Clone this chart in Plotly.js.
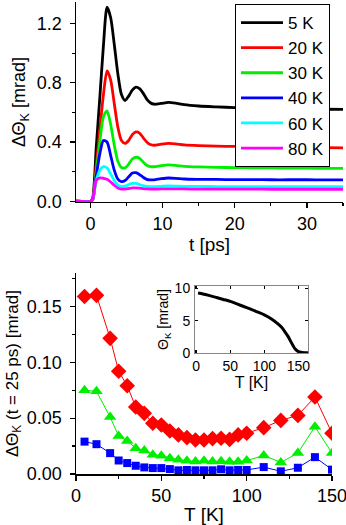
<!DOCTYPE html>
<html>
<head>
<meta charset="utf-8">
<script src="https://cdn.plot.ly/plotly-3.0.1.min.js"></script>
<style>
  html, body { margin: 0; padding: 0; background: #fff; }
  #plot { width: 346px; height: 525px; }
</style>
</head>
<body>
<div id="plot"></div>
<script>
// time-resolved Kerr rotation (top panel)
var tPs = [-2, 0, 0.3, 0.8, 1.3, 1.8, 2.3, 2.8, 3.3, 3.8, 4.3, 4.8, 5.3, 5.8, 6.3, 6.8, 7.3, 7.8, 8.3, 8.8, 9.8, 10.8, 11.8, 13, 15, 17.5, 20, 22.5, 25, 27.5, 30, 32.5, 35];
var k5  = [0, 0, 0.02, 0.36, 0.70, 1.05, 1.31, 1.24, 1.06, 0.86, 0.72, 0.68, 0.71, 0.75, 0.77, 0.76, 0.73, 0.69, 0.665, 0.655, 0.66, 0.668, 0.663, 0.652, 0.643, 0.637, 0.632, 0.628, 0.625, 0.623, 0.622, 0.621, 0.62];
var k20 = [0, 0, 0.01, 0.24, 0.48, 0.72, 0.88, 0.82, 0.66, 0.50, 0.41, 0.39, 0.41, 0.45, 0.468, 0.46, 0.43, 0.40, 0.383, 0.378, 0.385, 0.39, 0.387, 0.38, 0.375, 0.372, 0.37, 0.368, 0.366, 0.364, 0.363, 0.362, 0.36];
var k30 = [0, 0, 0.01, 0.20, 0.40, 0.57, 0.61, 0.52, 0.38, 0.27, 0.228, 0.225, 0.25, 0.285, 0.297, 0.29, 0.265, 0.243, 0.234, 0.233, 0.24, 0.245, 0.242, 0.236, 0.232, 0.229, 0.227, 0.226, 0.225, 0.224, 0.223, 0.222, 0.222];
var k40 = [0, 0, 0.01, 0.17, 0.32, 0.41, 0.40, 0.31, 0.21, 0.15, 0.133, 0.14, 0.165, 0.19, 0.193, 0.18, 0.162, 0.148, 0.144, 0.145, 0.152, 0.157, 0.155, 0.15, 0.148, 0.147, 0.146, 0.146, 0.145, 0.145, 0.145, 0.144, 0.144];
var k60 = [0, 0, 0.01, 0.14, 0.21, 0.233, 0.225, 0.185, 0.14, 0.11, 0.099, 0.102, 0.112, 0.12, 0.12, 0.113, 0.105, 0.10, 0.099, 0.099, 0.101, 0.103, 0.102, 0.10, 0.10, 0.099, 0.099, 0.099, 0.098, 0.098, 0.098, 0.098, 0.098];
var k80 = [0, 0, 0.01, 0.14, 0.158, 0.155, 0.148, 0.13, 0.108, 0.09, 0.082, 0.082, 0.086, 0.09, 0.09, 0.088, 0.085, 0.083, 0.082, 0.082, 0.083, 0.084, 0.083, 0.083, 0.082, 0.082, 0.082, 0.082, 0.081, 0.081, 0.081, 0.081, 0.081];
var tempNames = ["5 K", "20 K", "30 K", "40 K", "60 K", "80 K"];
var tempColors = ["#000000", "#ff0000", "#00ee00", "#0000ff", "#00ffff", "#ff00ff"];

// signal at t = 25 ps vs temperature (bottom panel)
var tempK = [5, 12, 20, 25, 30, 35, 40, 45, 50, 55, 60, 65, 70, 75, 80, 85, 90, 95, 100, 110, 120, 130, 140, 150];
var redDiamond = [0.159, 0.160, 0.1215, 0.092, 0.079, 0.060, 0.0543, 0.0454, 0.0439, 0.0385, 0.035, 0.0326, 0.0305, 0.0305, 0.0317, 0.032, 0.031, 0.035, 0.0365, 0.0415, 0.048, 0.0525, 0.069, 0.0365];
var greenTri = [0.075, 0.074, 0.051, 0.034, 0.0296, 0.0231, 0.021, 0.0172, 0.0163, 0.0142, 0.0127, 0.0118, 0.0112, 0.0118, 0.0112, 0.0115, 0.011, 0.011, 0.012, 0.0166, 0.0104, 0.0187, 0.0424, 0.0187];
var blueSquare = [0.029, 0.0267, 0.0187, 0.0121, 0.0098, 0.0074, 0.0059, 0.0053, 0.0053, 0.0044, 0.0033, 0.0036, 0.0033, 0.0033, 0.0033, 0.0042, 0.0033, 0.0036, 0.0036, 0.0062, 0.0024, 0.0056, 0.0151, 0.0039];

// static Kerr rotation (inset)
var insetT = [3, 10, 20, 30, 40, 50, 60, 70, 80, 90, 100, 110, 120, 125, 130, 135, 140, 145, 150, 155, 160, 164];
var insetTheta = [9.3, 9.15, 8.9, 8.6, 8.3, 8.0, 7.6, 7.2, 6.8, 6.35, 5.9, 5.3, 4.5, 4.0, 3.3, 2.5, 1.5, 0.6, 0.15, 0.02, 0, 0];

var font = "Liberation Sans, Arial, sans-serif";
var kSeries = [k5, k20, k30, k40, k60, k80];

var traces = kSeries.map(function (ys, i) {
  return {
    x: tPs, y: ys, type: "scatter", mode: "lines",
    name: tempNames[i],
    line: { color: tempColors[i], width: 2.8, shape: "spline", smoothing: 0.7 },
    xaxis: "x", yaxis: "y"
  };
});

traces.push({
  x: tempK, y: redDiamond, type: "scatter", mode: "lines+markers", showlegend: false,
  line: { color: "#ff0000", width: 1 },
  marker: { symbol: "diamond", size: 12, color: "#ff0000" },
  xaxis: "x3", yaxis: "y3"
});
traces.push({
  x: tempK, y: greenTri, type: "scatter", mode: "lines+markers", showlegend: false,
  line: { color: "#00ee00", width: 1 },
  marker: { symbol: "triangle-up", size: 11, color: "#00ee00" },
  xaxis: "x3", yaxis: "y3"
});
traces.push({
  x: tempK, y: blueSquare, type: "scatter", mode: "lines+markers", showlegend: false,
  line: { color: "#0000ff", width: 1 },
  marker: { symbol: "square", size: 8, color: "#0000ff" },
  xaxis: "x3", yaxis: "y3"
});
traces.push({
  x: insetT, y: insetTheta, type: "scatter", mode: "lines", showlegend: false,
  line: { color: "#000000", width: 3, shape: "spline", smoothing: 0.6 },
  xaxis: "x5", yaxis: "y5"
});

// shared axis styling
function ax(extra) {
  var base = {
    showgrid: false, zeroline: false, showline: true,
    linecolor: "#000", linewidth: 1.5,
    tickcolor: "#000", tickwidth: 1.2,
    ticklabeloverflow: "allow",
    tickfont: { family: font, size: 18, color: "#000" }
  };
  for (var k in extra) base[k] = extra[k];
  return base;
}

var topDom = [0.5763, 1];
var botDom = [0, 0.4258];

var layout = {
  width: 346, height: 525,
  margin: { l: 76, r: 3, t: 2, b: 51 },
  paper_bgcolor: "#fff", plot_bgcolor: "rgba(0,0,0,0)",
  font: { family: font, color: "#000" },
  showlegend: true,
  legend: {
    x: 0.5955, y: 0.9958, xanchor: "left", yanchor: "top",
    bgcolor: "#fff", bordercolor: "#000", borderwidth: 1,
    font: { family: font, size: 17 }, itemwidth: 42,
    tracegroupgap: 0
  },
  // top panel
  xaxis: ax({
    domain: [0, 1], anchor: "y", range: [-2, 35], dtick: 10,
    ticks: "outside", ticklen: 5,
    minor: { dtick: 5, ticks: "outside", ticklen: 3, tickcolor: "#000" },
    title: { text: "t [ps]", font: { family: font, size: 19 }, standoff: 2 }
  }),
  yaxis: ax({
    domain: topDom, anchor: "x", range: [-0.005, 1.345], dtick: 0.4, tickformat: ".1f",
    ticks: "outside", ticklen: 5, ticklabelstandoff: 4,
    minor: { dtick: 0.2, ticks: "outside", ticklen: 3, tickcolor: "#000" },
    title: { text: "ΔΘ<sub>K</sub> [mrad]", font: { family: font, size: 18 }, standoff: 6 }
  }),
  xaxis2: ax({
    overlaying: "x", side: "top", anchor: "y", range: [-2, 35], dtick: 5,
    ticks: "inside", ticklen: 5, showticklabels: false
  }),
  yaxis2: ax({
    overlaying: "y", side: "right", anchor: "x", range: [-0.005, 1.345], dtick: 0.2,
    ticks: "inside", ticklen: 5, showticklabels: false
  }),
  // bottom panel
  xaxis3: ax({
    domain: [0, 0.9588], anchor: "y3", range: [0, 150], dtick: 50,
    ticks: "outside", ticklen: 5,
    minor: { dtick: 25, ticks: "outside", ticklen: 3, tickcolor: "#000" },
    title: { text: "T [K]", font: { family: font, size: 19 }, standoff: 2 }
  }),
  yaxis3: ax({
    domain: botDom, anchor: "x3", range: [0, 0.18], dtick: 0.05, tickformat: ".2f",
    ticks: "outside", ticklen: 5, ticklabelstandoff: 4,
    minor: { dtick: 0.025, ticks: "outside", ticklen: 3, tickcolor: "#000" },
    title: { text: "ΔΘ<sub>K</sub> (t = 25 ps) [mrad]", font: { family: font, size: 17 }, standoff: 4 }
  }),
  xaxis4: ax({
    overlaying: "x3", side: "top", anchor: "y3", range: [0, 150], dtick: 25,
    ticks: "inside", ticklen: 5, showticklabels: false
  }),
  yaxis4: ax({
    overlaying: "y3", side: "right", anchor: "x3", range: [0, 0.18], dtick: 0.025,
    ticks: "inside", ticklen: 5, showticklabels: false
  }),
  // inset
  xaxis5: ax({
    domain: [0.4457, 0.8689], anchor: "y5", range: [-1.5, 164], dtick: 50,
    ticks: "inside", ticklen: 3, mirror: "allticks", linewidth: 1, linecolor: "#888",
    tickfont: { family: font, size: 14 },
    title: { text: "T [K]", font: { family: font, size: 16 }, standoff: 0 }
  }),
  yaxis5: ax({
    domain: [0.2564, 0.3983], anchor: "x5", range: [-0.05, 10.4], dtick: 5,
    ticks: "inside", ticklen: 3, mirror: "allticks", linewidth: 1, linecolor: "#888",
    ticklabelstandoff: 1,
    tickfont: { family: font, size: 14 },
    title: { text: "Θ<sub>K</sub> [mrad]", font: { family: font, size: 14 }, standoff: 2 }
  })
};

Plotly.newPlot("plot", traces, layout, { staticPlot: true, displayModeBar: false });
</script>
</body>
</html>
